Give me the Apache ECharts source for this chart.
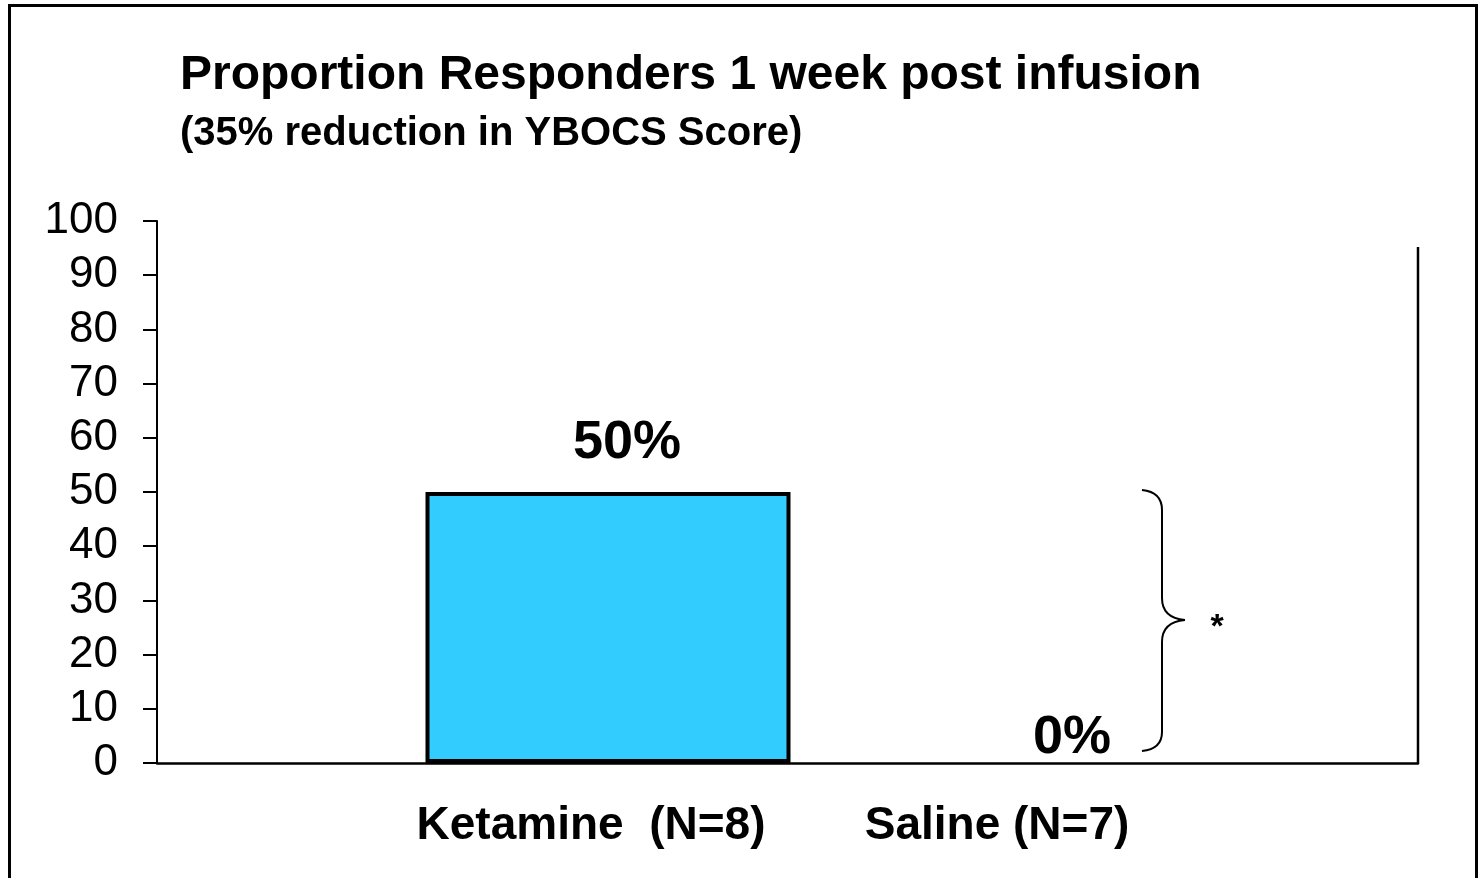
<!DOCTYPE html>
<html>
<head>
<meta charset="utf-8">
<title>Proportion Responders</title>
<script src="https://cdn.jsdelivr.net/npm/echarts@6/dist/echarts.min.js"></script>
<style>
    html, body { margin: 0; padding: 0; background: #fff; }
    #chart { width: 1480px; height: 878px; }
</style>
</head>
<body>
<div id="chart"></div>
<script>
// data
const categories = ['Ketamine  (N=8)', 'Saline (N=7)']
const responders = [50, 0]
const yTicks = [0, 100, 10] // min, max, interval

const titleText = 'Proportion Responders 1 week post infusion'
const subText = '(35% reduction in YBOCS Score)'

const font = "'Liberation Sans', Arial, sans-serif"

// per-bar label tweaks (style only)
const labelOffsets = [[19, 0], [1, 0]]
const labelDistances = [22, -2]
const catShift = [-17, -74]

const myChart = echarts.init(document.getElementById('chart'))

const braceStyle = { fill: 'none', stroke: '#000', lineWidth: 2 }
const curve = (x1, y1, cx, cy, x2, y2) => ({
    type: 'bezierCurve', silent: true,
    shape: { x1: x1, y1: y1, cpx1: cx, cpy1: cy, x2: x2, y2: y2 },
    style: braceStyle
})
const seg = (x1, y1, x2, y2) => ({
    type: 'line', silent: true,
    shape: { x1: x1, y1: y1, x2: x2, y2: y2 },
    style: braceStyle
})

const option = {
    backgroundColor: '#fff',
    animation: false,
    title: [
        {
            text: titleText,
            left: 180,
            top: 52,
            padding: 0,
            textStyle: { fontFamily: font, fontSize: 48, fontWeight: 'bold', color: '#000' }
        },
        {
            text: subText,
            left: 180,
            top: 114,
            padding: 0,
            textStyle: { fontFamily: font, fontSize: 40, fontWeight: 'bold', color: '#000' }
        }
    ],
    grid: [
        // frame with the y axis
        { left: 157, right: 62, top: 221, bottom: 115 },
        // grid holding the bars
        { left: 376.5, right: 177.5, top: 221, bottom: 115 }
    ],
    xAxis: [
        {
            gridIndex: 0,
            type: 'category',
            data: categories,
            axisLine: { show: true, lineStyle: { color: '#000', width: 2.5 } },
            axisTick: { show: false },
            axisLabel: { show: false },
            splitLine: { show: false }
        },
        {
            gridIndex: 1,
            type: 'category',
            data: categories,
            axisLine: { show: false },
            axisTick: { show: false },
            axisLabel: {
                margin: 40,
                formatter: (v, i) => '{c' + i + '|' + v + '}',
                rich: {
                    c0: { fontFamily: font, fontSize: 46, fontWeight: 'bold', color: '#000', padding: [0, -catShift[0] * 2, 0, 0] },
                    c1: { fontFamily: font, fontSize: 46, fontWeight: 'bold', color: '#000', padding: [0, -catShift[1] * 2, 0, 0] }
                }
            }
        }
    ],
    yAxis: [
        {
            gridIndex: 0,
            type: 'value',
            min: yTicks[0],
            max: yTicks[1],
            interval: yTicks[2],
            axisLine: { show: true, lineStyle: { color: '#000', width: 2 } },
            axisTick: { show: true, length: 14, lineStyle: { color: '#000', width: 2 } },
            axisLabel: { margin: 39, fontFamily: font, fontSize: 44, color: '#000' },
            splitLine: { show: false }
        },
        {
            gridIndex: 1,
            type: 'value',
            min: yTicks[0],
            max: yTicks[1],
            interval: yTicks[2],
            show: false
        }
    ],
    series: [
        {
            type: 'bar',
            xAxisIndex: 1,
            yAxisIndex: 1,
            barWidth: 365,
            data: responders.map((v, i) => ({
                value: v,
                itemStyle: { borderWidth: v === 0 ? 0 : 4 },
                label: { offset: labelOffsets[i], distance: labelDistances[i] }
            })),
            itemStyle: { color: '#33CCFF', borderColor: '#000', borderWidth: 4 },
            label: {
                show: true,
                position: 'top',
                formatter: '{c}%',
                fontFamily: font,
                fontSize: 54,
                fontWeight: 'bold',
                color: '#000'
            }
        }
    ],
    graphic: [
        // outer frame
        {
            type: 'rect',
            shape: { x: 9.5, y: 5.5, width: 1467, height: 900 },
            style: { fill: 'none', stroke: '#000', lineWidth: 3 },
            silent: true
        },
        // right border of the plot
        {
            type: 'line',
            shape: { x1: 1418, y1: 247, x2: 1418, y2: 763 },
            style: { stroke: '#000', lineWidth: 2.5 },
            silent: true
        },
        // significance brace
        curve(1142, 490, 1162, 492, 1162, 510),
        seg(1162, 510, 1162, 598),
        curve(1162, 598, 1162, 618, 1185, 620),
        curve(1185, 620, 1162, 622, 1162, 642),
        seg(1162, 642, 1162, 732),
        curve(1162, 732, 1162, 749, 1142, 751),
        {
            type: 'text',
            x: 1217,
            y: 628,
            style: {
                text: '*',
                fontFamily: font,
                fontSize: 34,
                fontWeight: 'bold',
                fill: '#000',
                align: 'center',
                verticalAlign: 'middle'
            },
            silent: true
        }
    ]
}

myChart.setOption(option)
</script>
</body>
</html>
